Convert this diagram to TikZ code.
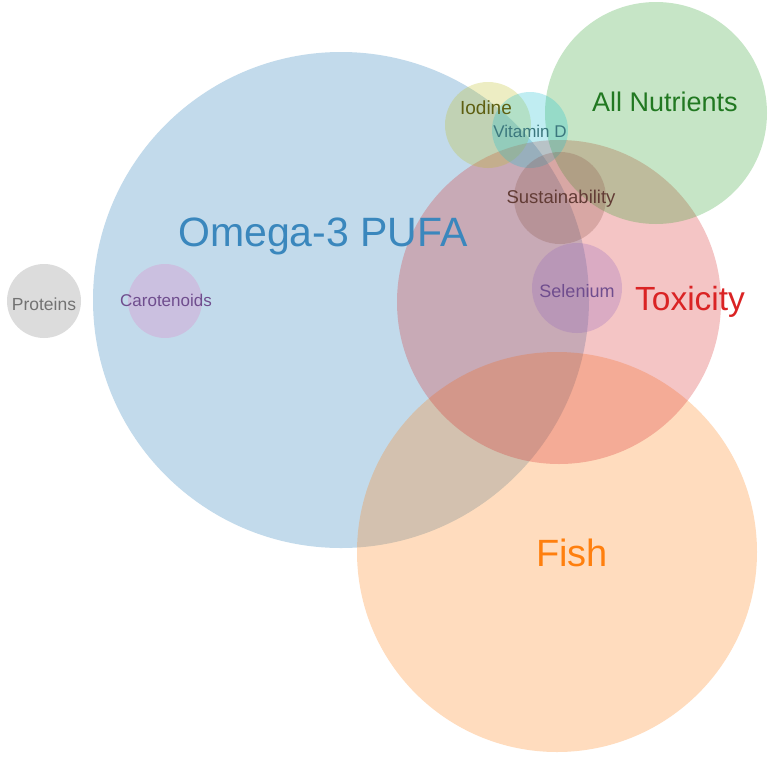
\documentclass[tikz,border=0pt]{standalone}
\usepackage{fontspec}
\setmainfont{Liberation Sans}
\definecolor{omegablue}{HTML}{1F77B4}
\definecolor{fishorange}{HTML}{FF7F0E}
\definecolor{nutgreen}{HTML}{2CA02C}
\definecolor{toxred}{HTML}{D62728}
\definecolor{selpurple}{HTML}{9467BD}
\definecolor{carpink}{HTML}{E377C2}
\definecolor{susbrown}{HTML}{8C564B}
\definecolor{protgray}{HTML}{7F7F7F}
\definecolor{iodolive}{HTML}{BCBD22}
\definecolor{vitcyan}{HTML}{17BECF}
\tikzset{
  bubble/.style={fill=#1,fill opacity=0.27},
  lbl/.style={text=#1,inner sep=0pt},
  fs/.style={font=\fontsize{#1}{#1}\selectfont}
}
\begin{document}
\begin{tikzpicture}[x=1pt,y=-1pt]
  \useasboundingbox (0,0) rectangle (769,761);
  %circles
	\fill[bubble=omegablue] (341,300) circle (248pt);
	\fill[bubble=fishorange] (557,552) circle (200pt);
	\fill[bubble=toxred] (559,302) circle (162pt);
	\fill[bubble=nutgreen] (656,113) circle (111pt);
	\fill[bubble=iodolive] (488,125) circle (43pt);
	\fill[bubble=vitcyan] (530,130) circle (38pt);
	\fill[bubble=susbrown] (560,198) circle (46pt);
	\fill[bubble=selpurple] (577,288) circle (45pt);
	\fill[bubble=carpink] (165,301) circle (37pt);
	\fill[bubble=protgray] (44,301) circle (37pt);

  %labels
	\node[lbl=omegablue!88!white,fs=41] (omega) at (323,236) {Omega-3 PUFA};
	\node[lbl=fishorange,fs=38] (fish) at (572,553) {Fish};
	\node[lbl=toxred!90!red,fs=33.5] (tox) at (690,302) {Toxicity};
	\node[lbl=nutgreen!75!black,fs=27] (nut) at (665,102) {All Nutrients};
	\node[lbl=iodolive!50!black,fs=19] (iod) at (486,108) {Iodine};
	\node[lbl=vitcyan!45!black!80,fs=17] (vit) at (530,131) {Vitamin D};
	\node[lbl=susbrown!70!black,fs=18.5] (sus) at (561,199) {Sustainability};
	\node[lbl=selpurple!75!black,fs=18] (sel) at (577,291) {Selenium};
	\node[lbl=selpurple!75!black,fs=17] (car) at (166,300) {Carotenoids};
	\node[lbl=protgray!90!black,fs=17.5] (prot) at (44,304) {Proteins};
\end{tikzpicture}
\end{document}
